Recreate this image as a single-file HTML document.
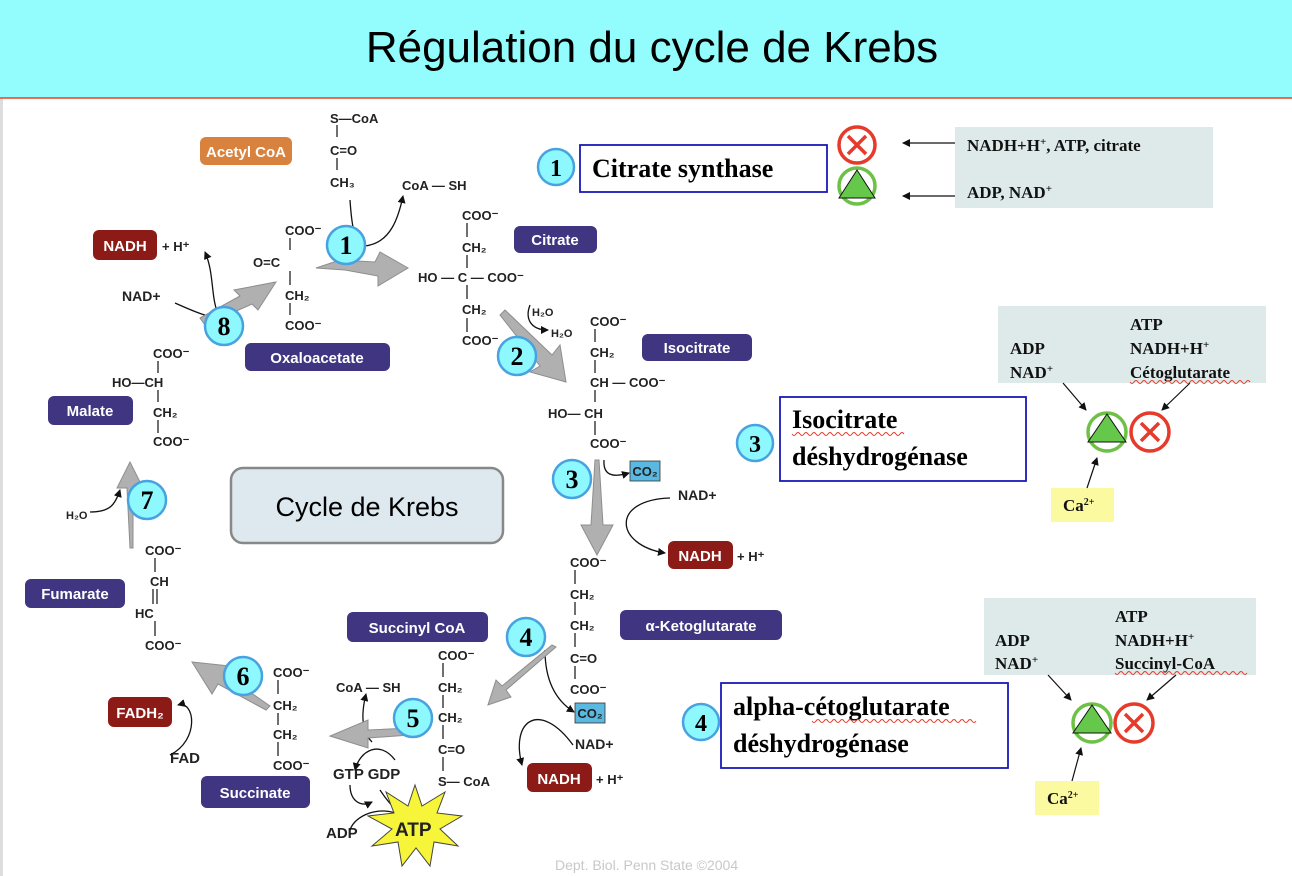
<!DOCTYPE html>
<html><head><meta charset="utf-8"><style>
html,body{margin:0;padding:0;background:#fff}
svg{display:block}
.c{font-family:"Liberation Sans",sans-serif;font-weight:bold;font-size:13px;fill:#222}
.lb{font-family:"Liberation Sans",sans-serif;font-weight:bold;font-size:15px;fill:#fff}
.n{font-family:"Liberation Serif",serif;font-weight:bold;font-size:26px;fill:#000}
.s{font-family:"Liberation Serif",serif;font-weight:bold;font-size:17px;fill:#111}
.b{font-family:"Liberation Serif",serif;font-weight:bold;font-size:26px;fill:#000}
</style></head><body>
<svg width="1292" height="876" viewBox="0 0 1292 876" xmlns="http://www.w3.org/2000/svg">
<defs>
<marker id="a" markerWidth="8" markerHeight="8" refX="7" refY="4" orient="auto" markerUnits="userSpaceOnUse"><path d="M0,0 L8,4 L0,8 z" fill="#111"/></marker>
</defs>
<rect x="0" y="0" width="1292" height="98" fill="#93fdfe"/>
<line x1="0" y1="98" x2="1292" y2="98" stroke="#e8402a" stroke-width="1.5"/>
<rect x="0" y="99" width="3" height="777" fill="#ddd"/>
<text x="652" y="62" text-anchor="middle" font-family="Liberation Sans,sans-serif" font-size="44" fill="#000">Régulation du cycle de Krebs</text>

<rect x="200" y="137" width="92" height="28" rx="6" fill="#d9823e"/><text x="246" y="157" text-anchor="middle" class="lb">Acetyl CoA</text>
<rect x="245" y="343" width="145" height="28" rx="6" fill="#3f3580"/><text x="317" y="363" text-anchor="middle" class="lb">Oxaloacetate</text>
<rect x="514" y="226" width="83" height="27" rx="6" fill="#3f3580"/><text x="555" y="245" text-anchor="middle" class="lb">Citrate</text>
<rect x="642" y="334" width="110" height="27" rx="6" fill="#3f3580"/><text x="697" y="353" text-anchor="middle" class="lb">Isocitrate</text>
<rect x="620" y="610" width="162" height="30" rx="6" fill="#3f3580"/><text x="701" y="631" text-anchor="middle" class="lb">α-Ketoglutarate</text>
<rect x="347" y="612" width="141" height="30" rx="6" fill="#3f3580"/><text x="417" y="633" text-anchor="middle" class="lb">Succinyl CoA</text>
<rect x="201" y="776" width="109" height="32" rx="6" fill="#3f3580"/><text x="255" y="798" text-anchor="middle" class="lb">Succinate</text>
<rect x="25" y="579" width="100" height="29" rx="6" fill="#3f3580"/><text x="75" y="599" text-anchor="middle" class="lb">Fumarate</text>
<rect x="48" y="396" width="85" height="29" rx="6" fill="#3f3580"/><text x="90" y="416" text-anchor="middle" class="lb">Malate</text>
<rect x="93" y="230" width="64" height="30" rx="6" fill="#8c1a17"/><text x="125" y="251" text-anchor="middle" class="lb">NADH</text>
<text x="162" y="251" class="c" font-size="14">+ H⁺</text>
<rect x="668" y="541" width="65" height="28" rx="6" fill="#8c1a17"/><text x="700" y="561" text-anchor="middle" class="lb">NADH</text>
<text x="737" y="561" class="c" font-size="14">+ H⁺</text>
<rect x="527" y="763" width="65" height="29" rx="6" fill="#8c1a17"/><text x="559" y="784" text-anchor="middle" class="lb">NADH</text>
<text x="596" y="784" class="c" font-size="14">+ H⁺</text>
<rect x="108" y="697" width="64" height="30" rx="6" fill="#8c1a17"/><text x="140" y="718" text-anchor="middle" class="lb">FADH₂</text>
<rect x="630" y="461" width="30" height="20" fill="#5bb8e0" stroke="#333" stroke-width="0.8"/><text x="645" y="476" text-anchor="middle" class="c" font-size="11">CO₂</text>
<rect x="575" y="703" width="30" height="20" fill="#5bb8e0" stroke="#333" stroke-width="0.8"/><text x="590" y="718" text-anchor="middle" class="c" font-size="11">CO₂</text>

<rect x="231" y="468" width="272" height="75" rx="12" fill="#dde9ee" stroke="#888" stroke-width="2.5"/>
<text x="367" y="516" text-anchor="middle" font-family="Liberation Sans,sans-serif" font-size="27" fill="#000">Cycle de Krebs</text>

<g class="c" stroke="none">
<text x="330" y="123">S—CoA</text><text x="330" y="155">C=O</text><text x="330" y="187">CH₃</text>
<text x="402" y="190">CoA — SH</text>
<text x="285" y="235">COO⁻</text><text x="253" y="267">O=C</text><text x="285" y="300">CH₂</text><text x="285" y="330">COO⁻</text>
<text x="462" y="220">COO⁻</text><text x="462" y="252">CH₂</text><text x="418" y="282">HO — C — COO⁻</text><text x="462" y="314">CH₂</text><text x="462" y="345">COO⁻</text>
<text x="532" y="316" font-size="11">H₂O</text><text x="551" y="337" font-size="11">H₂O</text>
<text x="590" y="326">COO⁻</text><text x="590" y="357">CH₂</text><text x="590" y="387">CH — COO⁻</text><text x="548" y="418">HO— CH</text><text x="590" y="448">COO⁻</text>
<text x="678" y="500" font-size="14">NAD+</text>
<text x="570" y="567">COO⁻</text><text x="570" y="599">CH₂</text><text x="570" y="630">CH₂</text><text x="570" y="663">C=O</text><text x="570" y="694">COO⁻</text>
<text x="575" y="749" font-size="14">NAD+</text>
<text x="438" y="660">COO⁻</text><text x="438" y="692">CH₂</text><text x="438" y="722">CH₂</text><text x="438" y="754">C=O</text><text x="438" y="786">S— CoA</text>
<text x="336" y="692">CoA — SH</text>
<text x="333" y="779" font-size="15">GTP GDP</text>
<text x="326" y="838" font-size="15">ADP</text>
<text x="273" y="677">COO⁻</text><text x="273" y="710">CH₂</text><text x="273" y="739">CH₂</text><text x="273" y="770">COO⁻</text>
<text x="170" y="763" font-size="15">FAD</text>
<text x="145" y="555">COO⁻</text><text x="150" y="586">CH</text><text x="135" y="618">HC</text><text x="145" y="650">COO⁻</text>
<text x="66" y="519" font-size="11">H₂O</text>
<text x="153" y="358">COO⁻</text><text x="112" y="387">HO—CH</text><text x="153" y="417">CH₂</text><text x="153" y="446">COO⁻</text>
<text x="122" y="301" font-size="14">NAD+</text>
</g>
<g stroke="#222" stroke-width="1.3" fill="none">
<path d="M337,125v12M337,158v12M290,238v12M290,271v14M290,303v12M467,223v14M467,255v13M467,285v14M467,318v14M595,329v13M595,360v13M595,390v12M595,421v14M575,570v14M575,602v13M575,633v14M575,666v13M443,663v14M443,695v13M443,725v14M443,757v14M278,680v14M278,713v12M278,742v14M155,558v14M153,589v15M157,589v15M155,621v15M158,361v12M158,390v12M158,420v13"/>
</g>
<g stroke="#111" stroke-width="1.3" fill="none" marker-end="url(#a)">
<path d="M350,200 C352,230 355,250 370,245 C390,240 398,220 403,196"/>
<path d="M175,303 C195,312 210,318 220,318 C210,300 215,275 205,252"/>
<path d="M530,305 C525,318 530,330 548,330"/>
<path d="M604,460 C603,475 612,478 629,473"/>
<path d="M670,498 C610,500 615,545 665,553"/>
<path d="M545,650 C545,680 555,700 574,712"/>
<path d="M573,745 C540,700 510,720 522,765"/>
<path d="M372,742 C360,730 362,710 366,694"/>
<path d="M395,760 C380,740 360,750 355,770"/>
<path d="M350,785 C350,800 360,808 372,802"/>
<path d="M380,790 C390,805 400,815 405,815"/>
<path d="M350,830 C355,815 380,805 400,815"/>
<path d="M170,755 C200,740 195,700 178,705"/>
<path d="M90,512 C110,512 115,505 120,490"/>
</g>
<g fill="#b0b0b0" stroke="#8e8e8e" stroke-width="1">
<polygon points="316,268 340,260 375,262 380,252 408,268 378,286 378,276 345,270"/>
<polygon points="505,310 552,355 560,345 566,382 530,372 540,366 500,315"/>
<polygon points="595,460 599,460 603,525 613,525 597,555 581,525 591,525"/>
<polygon points="556,647 506,690 511,697 488,705 496,680 502,686 552,645"/>
<polygon points="410,735 368,738 368,748 330,736 368,720 368,730 410,728"/>
<polygon points="266,710 218,684 212,694 192,662 230,666 224,674 270,706"/>
<polygon points="130,548 127,488 117,488 130,462 143,488 133,488 133,548"/>
<polygon points="200,318 240,296 234,290 276,282 258,310 252,304 205,325"/>
</g>
<polygon points="415,785 422,806 445,792 437,813 462,816 440,829 458,846 434,842 430,866 416,848 402,866 398,842 372,846 392,829 368,816 394,813 386,792 408,806" fill="#f6f53a" stroke="#444" stroke-width="1"/>
<text x="395" y="836" font-family="Liberation Sans,sans-serif" font-weight="bold" font-size="19" fill="#222">ATP</text>

<g fill="#8ef8ff" stroke="#49a2e0" stroke-width="2.5">
<circle cx="346" cy="245" r="19"/><circle cx="224" cy="326" r="19"/><circle cx="517" cy="356" r="19"/><circle cx="572" cy="479" r="19"/><circle cx="526" cy="637" r="19"/><circle cx="413" cy="718" r="19"/><circle cx="243" cy="676" r="19"/><circle cx="147" cy="500" r="19"/>
<circle cx="556" cy="167" r="18"/><circle cx="755" cy="443" r="18"/><circle cx="701" cy="722" r="18"/>
</g>
<g class="n" text-anchor="middle">
<text x="346" y="254">1</text><text x="224" y="335">8</text><text x="517" y="365">2</text><text x="572" y="488">3</text><text x="526" y="646">4</text><text x="413" y="727">5</text><text x="243" y="685">6</text><text x="147" y="509">7</text>
<text x="556" y="176" font-size="24">1</text><text x="755" y="452" font-size="24">3</text><text x="701" y="731" font-size="24">4</text>
</g>

<rect x="580" y="145" width="247" height="47" fill="#fff" stroke="#1a1ab8" stroke-width="1.8"/>
<text x="592" y="177" class="b">Citrate synthase</text>
<rect x="955" y="127" width="258" height="81" fill="#deeaea"/>
<text x="967" y="151" class="s">NADH+H<tspan font-size="11" dy="-6">+</tspan><tspan dy="6">, ATP, citrate</tspan></text>
<text x="967" y="198" class="s">ADP, NAD<tspan font-size="11" dy="-6">+</tspan></text>
<g stroke="#111" stroke-width="1.2" marker-end="url(#a)"><line x1="955" y1="143" x2="903" y2="143"/><line x1="955" y1="196" x2="903" y2="196"/></g>

<rect x="998" y="306" width="268" height="77" fill="#deeaea"/>
<text x="1010" y="354" class="s">ADP</text><text x="1010" y="378" class="s">NAD<tspan font-size="11" dy="-6">+</tspan></text>
<text x="1130" y="330" class="s">ATP</text><text x="1130" y="354" class="s">NADH+H<tspan font-size="11" dy="-6">+</tspan></text><text x="1130" y="378" class="s">Cétoglutarate</text>
<rect x="780" y="397" width="246" height="84" fill="#fff" stroke="#1a1ab8" stroke-width="1.8"/>
<text x="792" y="428" class="b">Isocitrate</text><text x="792" y="465" class="b">déshydrogénase</text>
<rect x="1051" y="488" width="63" height="34" fill="#fbfaa0"/><text x="1063" y="511" class="s" font-size="15">Ca<tspan font-size="10" dy="-6">2+</tspan></text>

<rect x="984" y="598" width="272" height="77" fill="#deeaea"/>
<text x="995" y="646" class="s">ADP</text><text x="995" y="669" class="s">NAD<tspan font-size="11" dy="-6">+</tspan></text>
<text x="1115" y="622" class="s">ATP</text><text x="1115" y="646" class="s">NADH+H<tspan font-size="11" dy="-6">+</tspan></text><text x="1115" y="669" class="s">Succinyl-CoA</text>
<rect x="721" y="683" width="287" height="85" fill="#fff" stroke="#1a1ab8" stroke-width="1.8"/>
<text x="733" y="715" class="b">alpha-cétoglutarate</text><text x="733" y="752" class="b">déshydrogénase</text>
<rect x="1035" y="781" width="64" height="34" fill="#fbfaa0"/><text x="1047" y="804" class="s" font-size="15">Ca<tspan font-size="10" dy="-6">2+</tspan></text>

<g stroke="#111" stroke-width="1.2" fill="none" marker-end="url(#a)">
<line x1="1063" y1="383" x2="1086" y2="410"/><line x1="1190" y1="383" x2="1162" y2="410"/><line x1="1087" y1="488" x2="1097" y2="458"/>
<line x1="1048" y1="675" x2="1071" y2="700"/><line x1="1176" y1="675" x2="1147" y2="700"/><line x1="1072" y1="781" x2="1081" y2="748"/>
</g>
<g stroke-width="3.5" fill="#fff">
<circle cx="857" cy="145" r="18" stroke="#e63a2a"/>
<circle cx="857" cy="186" r="18" stroke="#6dc246"/>
<circle cx="1107" cy="432" r="19" stroke="#6dc246"/>
<circle cx="1150" cy="432" r="19" stroke="#e63a2a"/>
<circle cx="1092" cy="723" r="19" stroke="#6dc246"/>
<circle cx="1134" cy="723" r="19" stroke="#e63a2a"/>
</g>
<g stroke="#e63a2a" stroke-width="3.5">
<path d="M848,136l18,18M866,136l-18,18"/>
<path d="M1141,423l18,18M1159,423l-18,18"/>
<path d="M1125,714l18,18M1143,714l-18,18"/>
</g>
<g fill="#66c84a" stroke="#111" stroke-width="1">
<polygon points="857,170 839,198 875,198"/>
<polygon points="1107,414 1088,442 1126,442"/>
<polygon points="1092,705 1073,733 1111,733"/>
</g>
<g stroke="#e63a2a" stroke-width="1" fill="none">
<path d="M1130,382 q2,3 4,0 t4,0 t4,0 t4,0 t4,0 t4,0 t4,0 t4,0 t4,0 t4,0 t4,0 t4,0 t4,0 t4,0 t4,0 t4,0 t4,0 t4,0 t4,0 t4,0 t4,0 t4,0 t4,0 t4,0 t4,0 t4,0 t4,0 t4,0 t4,0 t4,0"/>
<path d="M1115,673 q2,3 4,0 t4,0 t4,0 t4,0 t4,0 t4,0 t4,0 t4,0 t4,0 t4,0 t4,0 t4,0 t4,0 t4,0 t4,0 t4,0 t4,0 t4,0 t4,0 t4,0 t4,0 t4,0 t4,0 t4,0 t4,0 t4,0 t4,0 t4,0 t4,0 t4,0 t4,0 t4,0 t4,0"/>
<path d="M792,434 q2,3 4,0 t4,0 t4,0 t4,0 t4,0 t4,0 t4,0 t4,0 t4,0 t4,0 t4,0 t4,0 t4,0 t4,0 t4,0 t4,0 t4,0 t4,0 t4,0 t4,0 t4,0 t4,0 t4,0 t4,0 t4,0 t4,0 t4,0 t4,0"/>
<path d="M812,721 q2,3 4,0 t4,0 t4,0 t4,0 t4,0 t4,0 t4,0 t4,0 t4,0 t4,0 t4,0 t4,0 t4,0 t4,0 t4,0 t4,0 t4,0 t4,0 t4,0 t4,0 t4,0 t4,0 t4,0 t4,0 t4,0 t4,0 t4,0 t4,0 t4,0 t4,0 t4,0 t4,0 t4,0 t4,0 t4,0 t4,0 t4,0 t4,0 t4,0 t4,0 t4,0"/>
</g>
<text x="555" y="870" font-family="Liberation Sans,sans-serif" font-size="14" fill="#c8c8c8">Dept. Biol. Penn State ©2004</text>
</svg>
</body></html>
